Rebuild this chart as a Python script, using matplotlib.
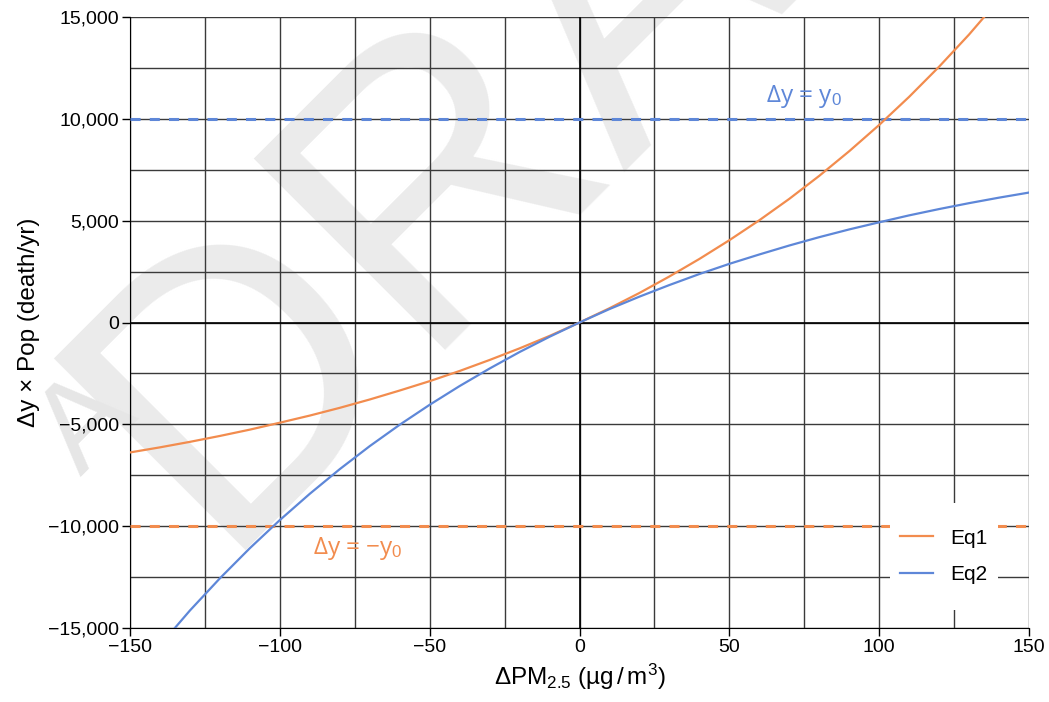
import matplotlib
matplotlib.use("Agg")
import matplotlib.pyplot as plt
from matplotlib.ticker import FuncFormatter, MultipleLocator
from matplotlib.patches import Rectangle

plt.rcParams['font.family'] = ['Liberation Sans', 'DejaVu Sans']
plt.rcParams['mathtext.fontset'] = 'custom'
plt.rcParams['mathtext.rm'] = 'Liberation Sans'
plt.rcParams['mathtext.it'] = 'Liberation Sans:italic'

# Data
x_vals = [-150, -140, -130, -120, -110, -100, -90, -80, -70, -60, -50, -40, -30, -20, -10,
          0, 10, 20, 30, 40, 50, 60, 70, 80, 90, 100, 110, 120, 130, 140, 150]
eq1_vals = [-6380, -6130, -5860, -5570, -5260, -4920, -4570, -4190, -3780, -3340, -2880,
            -2380, -1840, -1270, -660, 0, 700, 1450, 2260, 3120, 4040, 5020, 6070, 7200,
            8410, 9700, 11080, 12560, 14140, 15850, 17700]
eq2_vals = [-17700, -15850, -14140, -12560, -11080, -9700, -8410, -7200, -6070, -5020, -4040,
            -3120, -2260, -1450, -700, 0, 660, 1270, 1840, 2380, 2880, 3340, 3780, 4190,
            4570, 4920, 5260, 5570, 5860, 6130, 6380]
y0 = 10000
series_names = ["Eq1", "Eq2"]

orange = "#F28C4E"
blue = "#5E87D8"

W, H = 1049, 702
fig = plt.figure(figsize=(W/100, H/100), dpi=100)
L, R, T, B = 130, 1029, 17, 628
ax = fig.add_axes([L/W, 1 - B/H, (R-L)/W, (B-T)/H])
ax.patch.set_visible(False)

# Watermark
fig.text(213/W, 1 - 550/H, "DRAFT", rotation=45, rotation_mode="anchor", fontsize=283,
         color="#ebebeb", ha="left", va="baseline", zorder=-10)
fig.text(88/W, 1 - 425/H, "A", rotation=45, rotation_mode="anchor", fontsize=90,
         color="#e6e6e6", ha="center", va="center", zorder=-10)

ax.set_xlim(-150, 150)
ax.set_ylim(-15000, 15000)

ax.xaxis.set_major_locator(MultipleLocator(50))
ax.xaxis.set_minor_locator(MultipleLocator(25))
ax.yaxis.set_major_locator(MultipleLocator(5000))
ax.yaxis.set_minor_locator(MultipleLocator(2500))

ax.grid(True, which="both", color="#3a3a3a", linewidth=1.0, zorder=1)
ax.set_axisbelow(True)
ax.axhline(0, color="black", linewidth=1.2, zorder=1.5)
ax.axvline(0, color="black", linewidth=1.2, zorder=1.5)

def fmt(v, pos):
    if v < 0:
        return "\u2212" + f"{int(-v):,}"
    return f"{int(v):,}"

def fmtx(v, pos):
    if v < 0:
        return "\u2212" + f"{int(-v)}"
    return f"{int(v)}"

ax.yaxis.set_major_formatter(FuncFormatter(fmt))
ax.xaxis.set_major_formatter(FuncFormatter(fmtx))
ax.tick_params(which="major", length=6, width=1, labelsize=14, direction="out", pad=2)
ax.tick_params(which="minor", length=0)
for s in ax.spines.values():
    s.set_visible(False)
ax.spines['left'].set_visible(True)
ax.spines['bottom'].set_visible(True)

ax.axhline(y0, color=blue, linewidth=2.2, dashes=(3.3, 3.0), zorder=3)
ax.axhline(-y0, color=orange, linewidth=2.2, dashes=(3.3, 3.0), zorder=3)

ax.plot(x_vals, eq1_vals, color=orange, linewidth=1.6, label=series_names[0], zorder=4)
ax.plot(x_vals, eq2_vals, color=blue, linewidth=1.6, label=series_names[1], zorder=4)

ax.text(75, 10450, "\u0394y = y$_0$", color=blue, fontsize=17.5, ha="center", va="bottom",
        family=["Open Sans", "DejaVu Sans"])
ax.text(-74, -10450, "\u0394y = \u2212y$_0$", color=orange, fontsize=17.5, ha="center", va="top",
        family=["Open Sans", "DejaVu Sans"])

# legend background box
def px2x(px):
    return (px - L) / (R - L) * 300 - 150

def px2y(py):
    return (B - py) / (B - T) * 30000 - 15000

x_a, x_b = px2x(890), px2x(998)
y_a, y_b = px2y(610), px2y(503)
ax.add_patch(Rectangle((x_a, y_a), x_b - x_a, y_b - y_a, facecolor="white",
                       edgecolor="none", zorder=5))

leg = ax.legend(loc="center", bbox_to_anchor=((944 - L)/(R - L), (B - 556.5)/(B - T)),
                frameon=False, fontsize=15, handlelength=1.55, handletextpad=0.85,
                labelspacing=0.85, borderpad=0)
leg.set_zorder(6)

ax.set_xlabel("\u0394PM$_{2.5}$ (\u00b5g$\\,/\\,$m$^3$)", fontsize=17.5, labelpad=4)
ax.set_ylabel("\u0394y \u00d7 Pop (death/yr)", fontsize=17.5, labelpad=6)

fig.savefig("out.png", dpi=100)
